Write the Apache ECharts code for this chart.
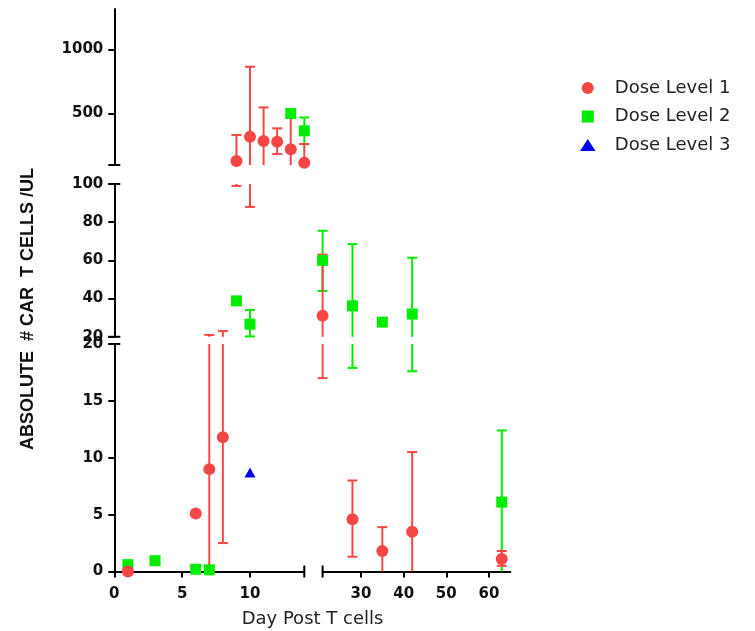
<!DOCTYPE html>
<html><head><meta charset="utf-8">
<script src="https://cdn.jsdelivr.net/npm/echarts@6/dist/echarts.min.js"></script>
<style>html,body{margin:0;padding:0;background:#fff}#c{width:755px;height:631px}</style>
</head><body><div id="c"></div>
<script>
// ---- data ----
const dose1Day = [1, 6, 7, 8, 9, 10, 11, 12, 13, 14, 21, 28, 35, 42, 63];
const dose1Val = [0, 5.1, 9.0, 11.8, 131, 320, 287, 281, 222, 118, 31, 4.6, 1.8, 3.5, 1.1];
const dose1Lo  = [null, null, -3, 2.5, 99, 88, 100, 185, 100, 100, 17, 1.3, -0.3, -3.6, 0.5];
const dose1Hi  = [null, null, 21, 23, 333, 864, 548, 385, 470, 263, 63, 8.0, 3.9, 10.5, 1.8];

const dose2Day = [1, 3, 6, 7, 9, 10, 13, 14, 21, 28, 35, 42, 63];
const dose2Val = [0.6, 0.95, 0.2, 0.15, 38.8, 26.6, 500, 366, 60, 36.2, 27.7, 31.9, 6.1];
const dose2Lo  = [null, null, null, null, null, 20.2, null, 263, 44, 17.9, null, 17.6, -0.2];
const dose2Hi  = [null, null, null, null, null, 34, null, 470, 75.5, 68.5, null, 61.4, 12.4];

const dose3Day = [10];
const dose3Val = [8.7];

const seriesNames = ['Dose Level 1', 'Dose Level 2', 'Dose Level 3'];
const yTicksTop = [500, 1000];
const yTicksMid = [20, 40, 60, 80, 100];
const yTicksBot = [0, 5, 10, 15, 20];
const xTicksLeft = [0, 5, 10];
const xTicksRight = [30, 40, 50, 60];
const xTitle = 'Day Post T cells';
const yTitle = 'ABSOLUTE  # CAR  T CELLS /UL';

// ---- layout ----
const xSegs = [
  {min: 0, max: 14, left: 114.3, width: 190, ticks: xTicksLeft, sym: ['none', 'rect']},
  {min: 21, max: 65, left: 322.6, width: 187.7, ticks: xTicksRight, sym: ['rect', 'none']}
];
const ySegs = [
  {min: 100, max: 1313, top: 9, height: 156, ticks: yTicksTop, sym: ['rect', 'none']},
  {min: 20, max: 100, top: 184, height: 152.8, ticks: yTicksMid, sym: ['rect', 'rect']},
  {min: 0, max: 20, top: 344, height: 227.5, ticks: yTicksBot, sym: ['none', 'rect']}
];
const RED = '#f84646', GREEN = '#00ec00', BLUE = '#0000ee';
const labelFont = {color: '#111', fontWeight: 'bold', fontSize: 15, fontFamily: 'DejaVu Sans',
  formatter: function (v) { return String(v); }};

const grids = [], xAxes = [], yAxes = [], series = [];
const doses = [
  {name: seriesNames[1], day: dose2Day, val: dose2Val, lo: dose2Lo, hi: dose2Hi, color: GREEN, symbol: 'rect', size: 11},
  {name: seriesNames[0], day: dose1Day, val: dose1Val, lo: dose1Lo, hi: dose1Hi, color: RED, symbol: 'circle', size: 12},
  {name: seriesNames[2], day: dose3Day, val: dose3Val, lo: [], hi: [], color: BLUE, symbol: 'triangle', size: [11, 10]}
];

function errRender(color, ys) {
  return function (params, api) {
    const x = api.value(0), lo = api.value(1), hi = api.value(2);
    if (!(hi > ys.min) || !(lo < ys.max)) return null;
    const a = Math.max(lo, ys.min), b = Math.min(hi, ys.max);
    const p1 = api.coord([x, a]), p2 = api.coord([x, b]);
    const st = {stroke: color, lineWidth: 2};
    const children = [{type: 'line', shape: {x1: p1[0], y1: p1[1], x2: p2[0], y2: p2[1]}, style: st}];
    [lo, hi].forEach(function (v) {
      if (v > ys.min && v < ys.max) {
        const p = api.coord([x, v]);
        children.push({type: 'line', shape: {x1: p[0] - 5, y1: p[1], x2: p[0] + 5, y2: p[1]}, style: st});
      }
    });
    return {type: 'group', children: children};
  };
}

let k = 0;
ySegs.forEach(function (ys, i) {
  xSegs.forEach(function (xs, j) {
    grids.push({left: xs.left, width: xs.width, top: ys.top, height: ys.height, containLabel: false});
    const showX = (i === 2), showY = (j === 0);
    xAxes.push({
      type: 'value', gridIndex: k, min: xs.min, max: xs.max, show: showX,
      axisLine: {show: true, onZero: false, lineStyle: {color: '#000', width: 2}, symbol: xs.sym, symbolSize: [12, 2]},
      axisTick: {show: true, length: 6, lineStyle: {color: '#000', width: 2}, customValues: xs.ticks},
      axisLabel: Object.assign({show: true, margin: 15, customValues: xs.ticks}, labelFont),
      splitLine: {show: false}
    });
    yAxes.push({
      type: 'value', gridIndex: k, min: ys.min, max: ys.max, show: showY,
      axisLine: {show: true, onZero: false, lineStyle: {color: '#000', width: 2}, symbol: ys.sym, symbolSize: [12, 2]},
      axisTick: {show: true, length: 6, lineStyle: {color: '#000', width: 2}, customValues: ys.ticks},
      axisLabel: Object.assign({show: true, margin: 11, customValues: ys.ticks}, labelFont),
      splitLine: {show: false}
    });
    doses.forEach(function (d) {
      const errData = [], ptData = [];
      d.day.forEach(function (x, n) {
        if (x < xs.min || x > xs.max) return;
        const y = d.val[n];
        if (y >= ys.min && y <= ys.max) ptData.push([x, y]);
        if (d.lo[n] != null && d.hi[n] != null) errData.push([x, d.lo[n], d.hi[n]]);
      });
      if (errData.length) {
        series.push({
          type: 'custom', name: d.name, xAxisIndex: k, yAxisIndex: k,
          renderItem: errRender(d.color, ys), data: errData,
          encode: {x: 0, y: [1, 2]}, itemStyle: {color: d.color}, silent: true
        });
      }
      if (ptData.length) {
        series.push({
          type: 'scatter', name: d.name, xAxisIndex: k, yAxisIndex: k, clip: false,
          symbol: d.symbol, symbolSize: d.size, itemStyle: {color: d.color, opacity: 1},
          data: ptData, silent: true
        });
      }
    });
    k++;
  });
});

const icons = [
  'path://M1,0.5A0.5,0.5,0,1,1,0,0.5A0.5,0.5,0,1,1,1,0.5z',
  'path://M0,0L1,0L1,1L0,1z',
  'path://M0.55,0L1.1,0.85L0,0.85z'
];

const chart = echarts.init(document.getElementById('c'), null, {renderer: 'canvas'});
chart.setOption({
  animation: false,
  backgroundColor: '#fff',
  grid: grids, xAxis: xAxes, yAxis: yAxes, series: series,
  legend: {
    orient: 'vertical', left: 575, top: 74, itemWidth: 44, itemHeight: 12, itemGap: 10.5,
    selectedMode: false,
    data: seriesNames.map(function (n, i) {
      return {name: n, icon: icons[i], itemStyle: {color: [RED, GREEN, BLUE][i]}};
    }),
    textStyle: {fontFamily: 'DejaVu Sans', fontSize: 18, color: '#222', lineHeight: 18}
  },
  graphic: [
    {type: 'text', x: 312.5, y: 619, style: {text: xTitle, align: 'center', verticalAlign: 'middle',
      font: '18px "DejaVu Sans"', fill: '#222'}},
    {type: 'text', x: 28.5, y: 309, rotation: Math.PI / 2, style: {text: yTitle, align: 'center', verticalAlign: 'middle',
      font: 'bold 18px "Liberation Sans", Arial', fill: '#111'}}
  ]
});
</script></body></html>
